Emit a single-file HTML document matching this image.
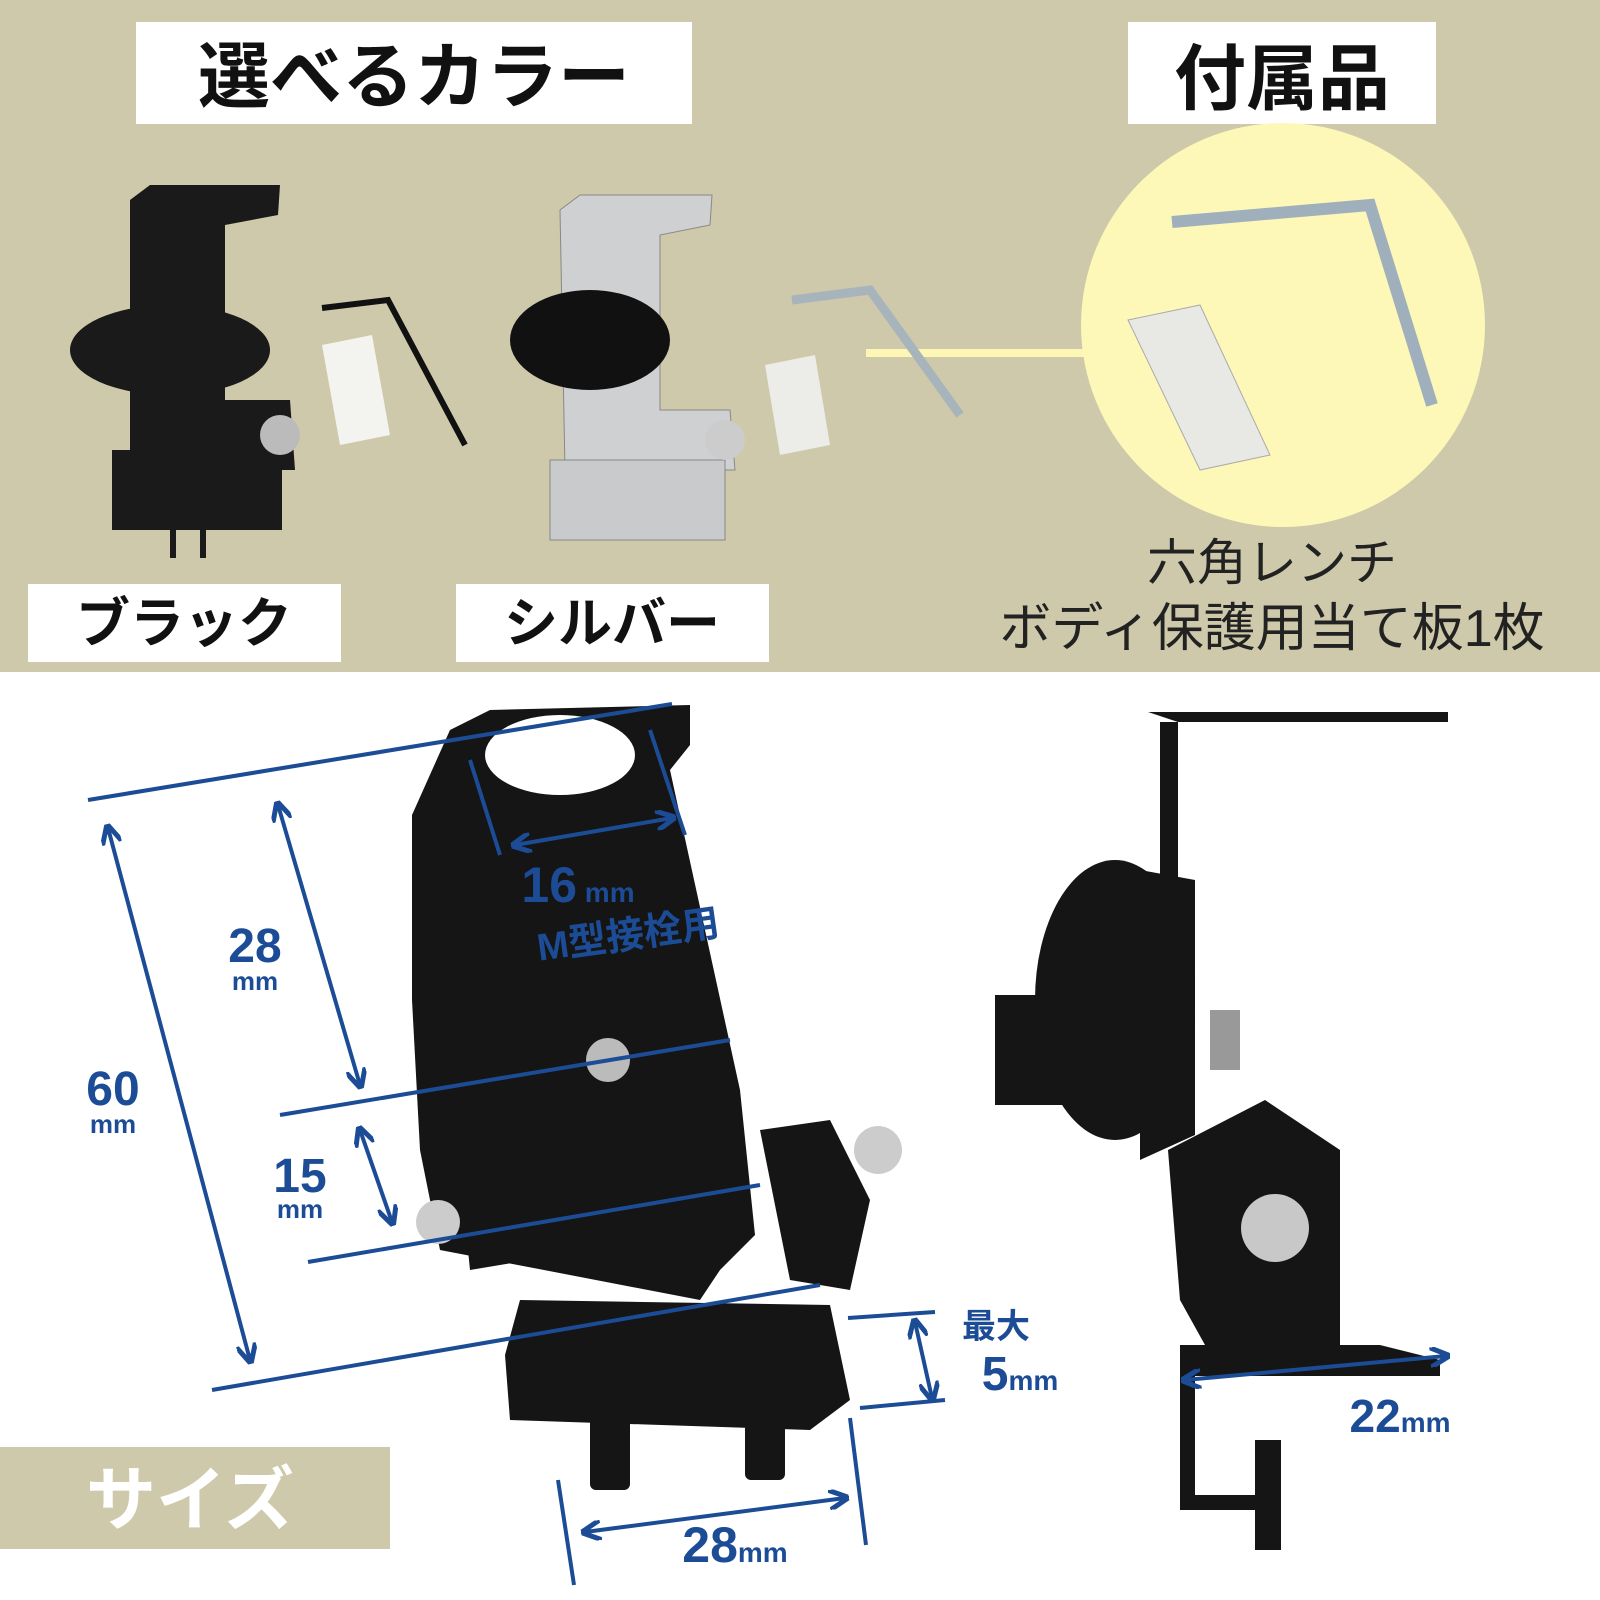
<!DOCTYPE html>
<html><head><meta charset="utf-8"><style>
html,body{margin:0;padding:0;width:1600px;height:1600px;overflow:hidden;background:#fff}
svg{display:block}
text{font-family:"Liberation Sans","Noto Sans CJK JP",sans-serif}
</style></head><body>
<svg width="1600" height="1600" viewBox="0 0 1600 1600">
<defs>
<marker id="a" viewBox="0 0 10 10" refX="8" refY="5" markerWidth="5" markerHeight="5" orient="auto-start-reverse"><path d="M0,0 L10,5 L0,10" fill="none" stroke="#1c4c96" stroke-width="2.5"/></marker>
</defs>
<rect x="0" y="0" width="1600" height="672" fill="#cec9aa"/>
<rect x="136" y="22" width="556" height="102" fill="#fff"/>
<text x="414" y="102" font-size="72" font-weight="bold" text-anchor="middle" fill="#111">選べるカラー</text>
<rect x="1128" y="22" width="308" height="102" fill="#fff"/>
<text x="1282" y="104" font-size="72" font-weight="bold" text-anchor="middle" fill="#111">付属品</text>
<line x1="866" y1="353" x2="1090" y2="353" stroke="#fdf6b4" stroke-width="8"/>
<circle cx="1283" cy="325" r="202" fill="#fdf8b8"/>
<polygon points="1128,320 1200,305 1270,455 1200,470" fill="#e8e8e4" stroke="#aaa"/>
<polyline points="1172,222 1370,205 1432,405" fill="none" stroke="#9fb0bc" stroke-width="12"/>
<text x="1272" y="580" font-size="50" text-anchor="middle" fill="#222">六角レンチ</text>
<text x="1272" y="646" font-size="52" text-anchor="middle" fill="#222">ボディ保護用当て板1枚</text>
<g fill="#1a1a1a">
<path d="M130,200 L150,185 L280,185 L278,215 L225,225 L225,400 L290,400 L295,470 L130,470 Z"/>
<ellipse cx="170" cy="350" rx="100" ry="45"/>
<rect x="112" y="450" width="170" height="80"/>
<rect x="200" y="528" width="6" height="30"/><rect x="170" y="528" width="6" height="30"/>
</g>
<circle cx="280" cy="435" r="20" fill="#bbb"/>
<polygon points="322,345 372,335 390,435 340,445" fill="#f3f3f0"/>
<polyline points="322,308 388,300 465,445" fill="none" stroke="#111" stroke-width="6"/>
<path d="M560,210 L580,195 L712,195 L710,225 L660,235 L660,410 L730,410 L735,470 L565,470 Z" fill="#cfd0d2" stroke="#888"/>
<ellipse cx="590" cy="340" rx="80" ry="50" fill="#111"/>
<rect x="550" y="460" width="175" height="80" fill="#c9cacc" stroke="#888"/>
<circle cx="725" cy="440" r="20" fill="#ccc"/>
<polygon points="765,365 815,355 830,445 780,455" fill="#ecece8"/>
<polyline points="792,300 870,290 960,415" fill="none" stroke="#a8b4bc" stroke-width="9"/>
<rect x="28" y="584" width="313" height="78" fill="#fff"/>
<text x="184" y="642" font-size="54" font-weight="bold" text-anchor="middle" fill="#111">ブラック</text>
<rect x="456" y="584" width="313" height="78" fill="#fff"/>
<text x="612" y="642" font-size="54" font-weight="bold" text-anchor="middle" fill="#111">シルバー</text>
<g fill="#151515">
<path d="M412,815 L450,730 L490,710 L690,705 L690,745 L670,770 L740,1090 L755,1235 L720,1270 L700,1300 L440,1250 L420,1150 L412,1000 Z"/>
<ellipse cx="580" cy="1070" rx="140" ry="110"/>
<path d="M505,1355 L520,1300 L830,1305 L850,1400 L810,1430 L510,1420 Z"/>
<path d="M760,1130 L830,1120 L870,1200 L850,1290 L790,1280 Z"/>
<path d="M460,1170 L510,1160 L530,1260 L470,1270 Z"/>
<rect x="590" y="1410" width="40" height="80" rx="6"/>
<rect x="745" y="1400" width="40" height="80" rx="6"/>
</g>
<ellipse cx="560" cy="755" rx="75" ry="40" fill="#fff"/>
<circle cx="608" cy="1060" r="22" fill="#bbb"/>
<circle cx="438" cy="1222" r="22" fill="#ccc"/>
<circle cx="878" cy="1150" r="24" fill="#ccc"/>
<g fill="#151515">
<path d="M1148,712 L1448,712 L1448,722 L1160,722 L1160,880 L1178,880 L1178,722 Z"/>
<path d="M1140,870 L1195,880 L1195,1135 L1140,1160 Z"/>
<ellipse cx="1115" cy="1000" rx="80" ry="140"/>
<rect x="995" y="995" width="80" height="110"/>
<path d="M1168,1150 L1265,1100 L1340,1150 L1340,1345 L1238,1345 L1205,1345 L1180,1300 Z"/>
<path d="M1180,1345 L1380,1345 L1440,1360 L1440,1376 L1195,1376 L1195,1495 L1265,1495 L1265,1510 L1180,1510 Z"/>
<rect x="1255" y="1440" width="26" height="110"/>
</g>
<circle cx="1275" cy="1228" r="34" fill="#c8c8c8"/>
<rect x="1210" y="1010" width="30" height="60" fill="#999"/>
<g stroke="#1c4c96" stroke-width="4" fill="none">
<line x1="88" y1="800" x2="672" y2="704"/>
<line x1="212" y1="1390" x2="820" y2="1285"/>
<line x1="280" y1="1115" x2="730" y2="1040"/>
<line x1="308" y1="1262" x2="760" y2="1185"/>
<line x1="470" y1="760" x2="500" y2="855"/>
<line x1="650" y1="730" x2="685" y2="835"/>
<line x1="848" y1="1318" x2="935" y2="1312"/>
<line x1="860" y1="1408" x2="945" y2="1400"/>
<line x1="558" y1="1480" x2="574" y2="1585"/>
<line x1="850" y1="1418" x2="866" y2="1545"/>
</g>
<g stroke="#1c4c96" stroke-width="4" fill="none" marker-start="url(#a)" marker-end="url(#a)">
<line x1="108" y1="828" x2="250" y2="1360"/>
<line x1="278" y1="805" x2="360" y2="1085"/>
<line x1="360" y1="1130" x2="392" y2="1222"/>
<line x1="515" y1="845" x2="672" y2="818"/>
<line x1="915" y1="1322" x2="932" y2="1398"/>
<line x1="585" y1="1532" x2="845" y2="1498"/>
<line x1="1185" y1="1380" x2="1446" y2="1356"/>
</g>
<g fill="#1c4c96" font-weight="bold">
<text x="578" y="902" font-size="50" text-anchor="middle">16<tspan font-size="28"> mm</tspan></text>
<text x="630" y="948" font-size="38" text-anchor="middle" transform="rotate(-8 630 948)">M型接栓用</text>
<text x="255" y="962" font-size="48" text-anchor="middle">28</text>
<text x="255" y="990" font-size="26" text-anchor="middle">mm</text>
<text x="113" y="1105" font-size="48" text-anchor="middle">60</text>
<text x="113" y="1133" font-size="26" text-anchor="middle">mm</text>
<text x="300" y="1192" font-size="48" text-anchor="middle">15</text>
<text x="300" y="1218" font-size="26" text-anchor="middle">mm</text>
<text x="996" y="1338" font-size="34" text-anchor="middle">最大</text>
<text x="1020" y="1390" font-size="48" text-anchor="middle">5<tspan font-size="28">mm</tspan></text>
<text x="735" y="1562" font-size="50" text-anchor="middle">28<tspan font-size="28">mm</tspan></text>
<text x="1400" y="1432" font-size="46" text-anchor="middle">22<tspan font-size="28">mm</tspan></text>
</g>
<rect x="0" y="1447" width="390" height="102" fill="#cec9aa"/>
<text x="190" y="1524" font-size="70" font-weight="bold" text-anchor="middle" fill="#fff">サイズ</text>
</svg>
</body></html>
